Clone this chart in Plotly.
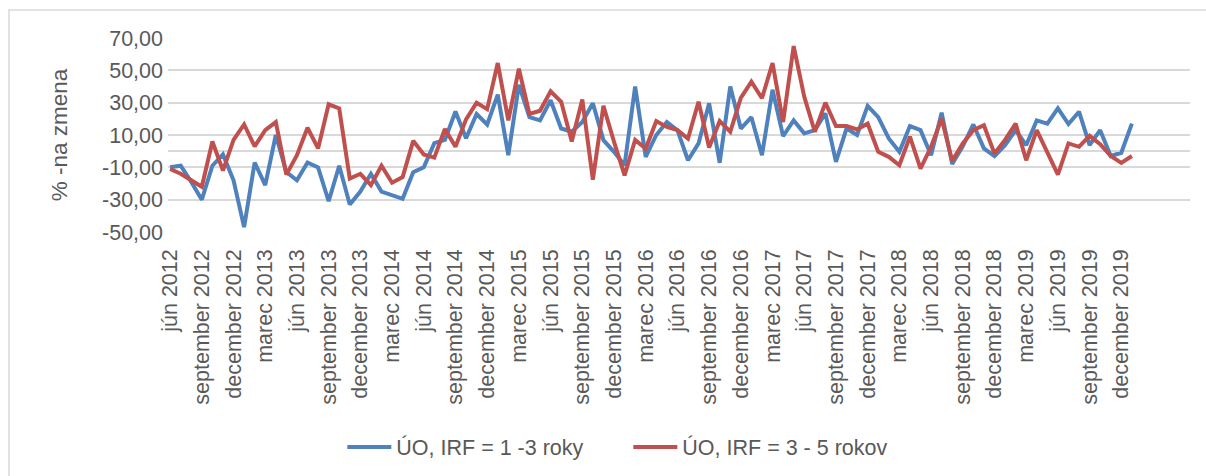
import plotly.graph_objects as go

month_names = ["január", "február", "marec", "apríl", "máj", "jún", "júl",
               "august", "september", "október", "november", "december"]

# monthly categories: jún 2012 .. január 2020
months = []
y, m = 2012, 6
for _ in range(92):
    months.append(f"{month_names[m-1]} {y}")
    m += 1
    if m > 12:
        m = 1
        y += 1

series_1_3 = [
    -10, -9, -19, -30, -9, -2, -18, -47, -7, -21,
    10, -13, -18, -7, -10, -31, -9, -33, -25, -14,
    -25, -27, -29.5, -13, -10, 5, 7, 24.5, 8, 23,
    16.5, 35, -2.5, 41, 21, 19, 31.5, 14, 12, 18,
    29.6, 6.8, -0.4, -8.7, 40, -3.5, 10, 18, 13, -5.6,
    4.8, 29.6, -7.2, 40, 14, 21, -2.5, 38, 9.3, 19,
    11, 13, 23.4, -6.6, 14, 10, 28, 21, 7.9, -0.4,
    15.5, 13, -2.5, 23.8, -8, 3, 16.5, 1.7, -3, 3.7,
    13, 3.7, 19, 17, 26.5, 16.8, 24.4, 3.7, 13, -3,
    -1, 17,
]

series_3_5 = [
    -11, -14, -18, -22, 6, -12, 7, 16.5, 3, 13,
    18, -14.5, -2.5, 14.5, 1.7, 29, 26.5, -17, -14, -21,
    -9, -19.5, -16, 6.4, -2, -4, 13.7, 2.7, 19.7, 30,
    26, 54.5, 19, 51, 23, 25, 37, 30.6, 6, 32,
    -17.6, 28, 5.8, -15, 7, 1.6, 18.6, 15, 13, 7.8,
    30.6, 2.3, 18.6, 12, 33, 43, 32.7, 54.5, 18, 65,
    33.7, 12, 30, 15.5, 15.5, 13.5, 17, -0.4, -3.5, -8.7,
    9, -10.8, 2.7, 20, -6, 4.8, 13, 16, -1.5, 7,
    17, -5.6, 13, -0.4, -14.5, 4.8, 2.7, 9.5, 4.3, -3,
    -7.2, -3,
]

y_ticks = [-50, -30, -10, 10, 30, 50, 70]
y_tick_text = [f"{v:.2f}".replace(".", ",") for v in y_ticks]
x_ticks = months[::3][:31]

fig = go.Figure()
fig.add_trace(go.Scatter(x=months, y=series_1_3, mode="lines",
                         name="ÚO, IRF = 1 -3 roky",
                         line=dict(color="#4F81BD", width=4)))
fig.add_trace(go.Scatter(x=months, y=series_3_5, mode="lines",
                         name="ÚO, IRF = 3 - 5 rokov",
                         line=dict(color="#C0504D", width=4)))

font_family = "Liberation Sans, Arial, sans-serif"
fig.update_layout(
    width=1206, height=476,
    margin=dict(l=168, r=16, t=38, b=244),
    paper_bgcolor="white", plot_bgcolor="white",
    font=dict(family=font_family, color="#595959", size=21),
    showlegend=True,
    legend=dict(orientation="h", xref="container", yref="container",
                x=0.521, y=0.061, xanchor="center", yanchor="middle",
                font=dict(size=21.5, color="#595959"),
                itemwidth=44, traceorder="normal",
                entrywidth=227, entrywidthmode="pixels"),
    xaxis=dict(type="category", categoryorder="array", categoryarray=months,
               range=[-0.2, 96.5], tickmode="array", tickvals=x_ticks,
               ticktext=x_ticks, tickangle=-90, showgrid=False,
               ticks="", showline=False, zeroline=False,
               tickfont=dict(size=21.5, color="#595959"),
               ticklabelstandoff=12),
    yaxis=dict(range=[-50, 70], tickmode="array", tickvals=y_ticks,
               ticktext=y_tick_text, showgrid=True, gridcolor="#D9D9D9",
               gridwidth=1.5, zeroline=True, zerolinecolor="#D9D9D9",
               zerolinewidth=1.5, showline=False, ticks="",
               tickfont=dict(size=21.5, color="#595959"),
               ticklabelstandoff=4,
               title=dict(text="% -na zmena", font=dict(size=22.5, color="#595959"),
                          standoff=28)),
    shapes=[dict(type="rect", xref="paper", yref="paper",
                 x0=-0.1556, x1=1.05, y0=-1.4, y1=1.144,
                 line=dict(color="#D9D9D9", width=1.5), fillcolor="rgba(0,0,0,0)",
                 layer="below")],
)

fig.write_html("out.html", config={"displayModeBar": False},
               post_script="document.body.style.margin='0';document.body.style.overflow='hidden';")
